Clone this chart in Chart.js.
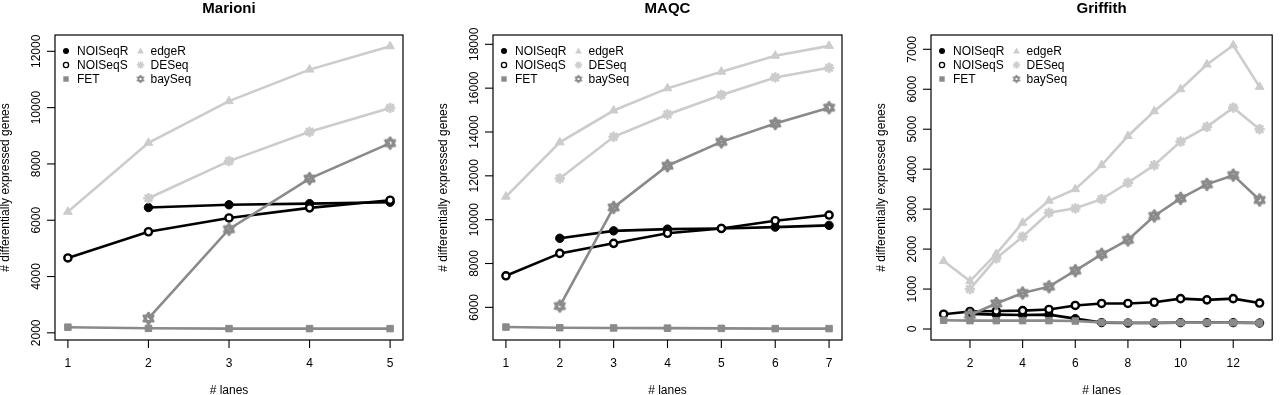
<!DOCTYPE html>
<html>
<head>
<meta charset="utf-8">
<script src="https://cdn.jsdelivr.net/npm/chart.js@4.4.1/dist/chart.umd.min.js"></script>
<style>
  html, body { margin: 0; padding: 0; background: #ffffff; }
  #wrap { position: relative; width: 1280px; height: 395px; overflow: hidden; }
  canvas { position: absolute; top: 0; }
</style>
</head>
<body>
<div id="wrap">
  <canvas id="c1" width="425" height="395" style="left:0px"></canvas>
  <canvas id="c2" width="425" height="395" style="left:425px"></canvas>
  <canvas id="c3" width="430" height="395" style="left:850px"></canvas>
</div>
<script>
// ---------------- DATA ----------------
const seriesNames = ["NOISeqR", "NOISeqS", "FET", "edgeR", "DESeq", "baySeq"];

// Marioni
const marioniLanes   = [1, 2, 3, 4, 5];
const marioniNOISeqR = [null, 6450, 6550, 6590, 6640];
const marioniNOISeqS = [4660, 5590, 6080, 6440, 6710];
const marioniFET     = [2200, 2160, 2150, 2150, 2150];
const marioniEdgeR   = [6300, 8750, 10230, 11350, 12180];
const marioniDESeq   = [null, 6780, 8100, 9140, 9990];
const marioniBaySeq  = [null, 2510, 5680, 7480, 8740];
const marioniXTicks  = [1, 2, 3, 4, 5];
const marioniYTicks  = [2000, 4000, 6000, 8000, 10000, 12000];

// MAQC
const maqcLanes   = [1, 2, 3, 4, 5, 6, 7];
const maqcNOISeqR = [null, 9150, 9490, 9570, 9600, 9660, 9740];
const maqcNOISeqS = [7440, 8460, 8920, 9380, 9600, 9950, 10210];
const maqcFET     = [5100, 5070, 5060, 5050, 5040, 5030, 5030];
const maqcEdgeR   = [11050, 13530, 14980, 15990, 16750, 17480, 17930];
const maqcDESeq   = [null, 11880, 13780, 14800, 15690, 16490, 16930];
const maqcBaySeq  = [null, 6060, 10560, 12460, 13550, 14390, 15110];
const maqcXTicks  = [1, 2, 3, 4, 5, 6, 7];
const maqcYTicks  = [6000, 8000, 10000, 12000, 14000, 16000, 18000];

// Griffith
const griffithLanes   = [1, 2, 3, 4, 5, 6, 7, 8, 9, 10, 11, 12, 13];
const griffithNOISeqR = [null, 380, 360, 350, 360, 260, 160, 150, 150, 160, 160, 160, 150];
const griffithNOISeqS = [370, 440, 450, 460, 490, 590, 640, 640, 670, 760, 730, 760, 650];
const griffithFET     = [220, 210, 210, 210, 210, 200, 165, 160, 160, 160, 160, 160, 150];
const griffithEdgeR   = [1700, 1200, 1880, 2660, 3210, 3500, 4100, 4830, 5450, 6000, 6620, 7100, 6060];
const griffithDESeq   = [null, 1000, 1770, 2310, 2910, 3020, 3250, 3660, 4100, 4690, 5060, 5540, 5000];
const griffithBaySeq  = [null, 350, 640, 900, 1060, 1460, 1870, 2230, 2830, 3270, 3620, 3850, 3230];
const griffithXTicks  = [2, 4, 6, 8, 10, 12];
const griffithYTicks  = [0, 1000, 2000, 3000, 4000, 5000, 6000, 7000];

const titles = ["Marioni", "MAQC", "Griffith"];
const xTitle = "# lanes";
const yTitle = "# differentially expressed genes";

// ---------------- STYLES ----------------
const FONT = '"Liberation Sans", Arial, Helvetica, sans-serif';
const DARK = '#8a8a8a';
const LIGHT = '#cccccc';

function davidStar(r, lw, color) {
  const s = Math.ceil(2 * r + lw * 2 + 4);
  const c = document.createElement('canvas');
  c.width = s; c.height = s;
  const g = c.getContext('2d');
  const cx = s / 2, cy = s / 2;
  g.strokeStyle = color; g.lineWidth = lw; g.lineJoin = 'round';
  [1, -1].forEach(d => {
    g.beginPath();
    g.moveTo(cx, cy - d * r);
    g.lineTo(cx + r * 0.866, cy + d * r / 2);
    g.lineTo(cx - r * 0.866, cy + d * r / 2);
    g.closePath();
    g.stroke();
  });
  return c;
}
const bayStarBig = davidStar(5.5, 2.6, DARK);
const bayStarSmall = davidStar(3.6, 1.4, DARK);

const styles = {
  NOISeqR: { color: '#000000', pointStyle: 'circle', radius: 4.2, bg: '#000000', pbw: 1, order: 6 },
  NOISeqS: { color: '#000000', pointStyle: 'circle', radius: 3.6, bg: '#ffffff', pbw: 2.4, order: 5 },
  FET:     { color: DARK, pointStyle: 'rect', radius: 4.6, bg: DARK, pbw: 1, order: 4 },
  edgeR:   { color: LIGHT, pointStyle: 'triangle', radius: 5, bg: LIGHT, pbw: 1, order: 3 },
  DESeq:   { color: LIGHT, pointStyle: 'star', radius: 5.2, bg: LIGHT, pbw: 2.6, order: 2 },
  baySeq:  { color: DARK, pointStyle: bayStarBig, radius: 5, bg: DARK, pbw: 1, order: 1 }
};

function buildDatasets(lanes, values) {
  return seriesNames.map((name, i) => {
    const st = styles[name];
    const pts = [];
    lanes.forEach((x, j) => { if (values[i][j] !== null) pts.push({ x: x, y: values[i][j] }); });
    return {
      label: name,
      data: pts,
      borderColor: st.color,
      backgroundColor: st.bg,
      borderWidth: 2.6,
      pointStyle: st.pointStyle,
      pointRadius: st.radius,
      pointBackgroundColor: st.bg,
      pointBorderColor: st.color,
      pointBorderWidth: st.pbw,
      tension: 0,
      order: st.order,
      clip: false
    };
  });
}

// Legend marker drawing
function legendMarker(ctx, name, x, y) {
  ctx.save();
  if (name === 'NOISeqR') {
    ctx.fillStyle = '#000'; ctx.beginPath(); ctx.arc(x, y, 3, 0, Math.PI * 2); ctx.fill();
  } else if (name === 'NOISeqS') {
    ctx.strokeStyle = '#000'; ctx.lineWidth = 1.3; ctx.beginPath(); ctx.arc(x, y, 2.6, 0, Math.PI * 2); ctx.stroke();
  } else if (name === 'FET') {
    ctx.fillStyle = DARK; ctx.fillRect(x - 2.7, y - 2.7, 5.4, 5.4);
  } else if (name === 'edgeR') {
    ctx.fillStyle = LIGHT; ctx.beginPath();
    ctx.moveTo(x, y - 3.6); ctx.lineTo(x + 3.3, y + 2.4); ctx.lineTo(x - 3.3, y + 2.4); ctx.closePath(); ctx.fill();
  } else if (name === 'DESeq') {
    ctx.strokeStyle = LIGHT; ctx.lineWidth = 1.5; ctx.beginPath();
    const r = 3.8, d = r * 0.707;
    ctx.moveTo(x - r, y); ctx.lineTo(x + r, y);
    ctx.moveTo(x, y - r); ctx.lineTo(x, y + r);
    ctx.moveTo(x - d, y - d); ctx.lineTo(x + d, y + d);
    ctx.moveTo(x - d, y + d); ctx.lineTo(x + d, y - d);
    ctx.stroke();
  } else if (name === 'baySeq') {
    ctx.drawImage(bayStarSmall, x - bayStarSmall.width / 2, y - bayStarSmall.height / 2);
  }
  ctx.restore();
}

function decorPlugin(title, xTicks, yTicks) {
  return {
    id: 'decor',
    afterDraw(chart) {
      const ctx = chart.ctx;
      const a = chart.chartArea;
      const xs = chart.scales.x, ys = chart.scales.y;
      ctx.save();
      // box
      ctx.strokeStyle = '#000'; ctx.lineWidth = 1.2;
      ctx.strokeRect(a.left, a.top, a.right - a.left, a.bottom - a.top);
      // x ticks
      ctx.lineWidth = 1.1;
      ctx.fillStyle = '#000';
      ctx.font = '12px ' + FONT;
      ctx.textAlign = 'center'; ctx.textBaseline = 'alphabetic';
      xTicks.forEach(v => {
        const px = xs.getPixelForValue(v);
        ctx.beginPath(); ctx.moveTo(px, a.bottom); ctx.lineTo(px, a.bottom + 8); ctx.stroke();
        ctx.fillText(String(v), px, 367);
      });
      // y ticks
      yTicks.forEach(v => {
        const py = ys.getPixelForValue(v);
        ctx.beginPath(); ctx.moveTo(a.left, py); ctx.lineTo(a.left - 8, py); ctx.stroke();
        ctx.save();
        ctx.translate(a.left - 15, py);
        ctx.rotate(-Math.PI / 2);
        ctx.textAlign = 'center'; ctx.textBaseline = 'alphabetic';
        ctx.fillText(String(v), 0, 0);
        ctx.restore();
      });
      // axis titles
      ctx.textAlign = 'center';
      ctx.fillText(xTitle, (a.left + a.right) / 2, 393.5);
      ctx.save();
      ctx.translate(a.left - 46, (a.top + a.bottom) / 2);
      ctx.rotate(-Math.PI / 2);
      ctx.fillText(yTitle, 0, 0);
      ctx.restore();
      // main title
      ctx.font = 'bold 15px ' + FONT;
      ctx.fillText(title, (a.left + a.right) / 2, 12.5);
      // legend
      ctx.font = '12px ' + FONT;
      ctx.textAlign = 'left'; ctx.textBaseline = 'middle';
      const rowsY = [a.top + 16, a.top + 30, a.top + 44];
      const cols = [
        { mx: a.left + 11, tx: a.left + 22, names: ['NOISeqR', 'NOISeqS', 'FET'] },
        { mx: a.left + 85.5, tx: a.left + 95.5, names: ['edgeR', 'DESeq', 'baySeq'] }
      ];
      cols.forEach(c => {
        c.names.forEach((n, i) => {
          legendMarker(ctx, n, c.mx, rowsY[i]);
          ctx.fillStyle = '#000';
          ctx.fillText(n, c.tx, rowsY[i] + 0.5);
        });
      });
      ctx.restore();
    }
  };
}

function makeChart(id, title, lanes, values, xTicks, yTicks, lim, pad) {
  const ctx = document.getElementById(id).getContext('2d');
  return new Chart(ctx, {
    type: 'line',
    data: { datasets: buildDatasets(lanes, values) },
    options: {
      responsive: false,
      animation: false,
      devicePixelRatio: 1,
      layout: { padding: pad },
      plugins: { legend: { display: false }, tooltip: { enabled: false }, title: { display: false } },
      scales: {
        x: { type: 'linear', display: false, min: lim.xmin, max: lim.xmax },
        y: { type: 'linear', display: false, min: lim.ymin, max: lim.ymax }
      }
    },
    plugins: [decorPlugin(title, xTicks, yTicks)]
  });
}

makeChart('c1', titles[0], marioniLanes,
  [marioniNOISeqR, marioniNOISeqS, marioniFET, marioniEdgeR, marioniDESeq, marioniBaySeq],
  marioniXTicks, marioniYTicks,
  { xmin: 0.84, xmax: 5.16, ymin: 1745, ymax: 12580 },
  { left: 55, right: 22, top: 35, bottom: 55 });

makeChart('c2', titles[1], maqcLanes,
  [maqcNOISeqR, maqcNOISeqS, maqcFET, maqcEdgeR, maqcDESeq, maqcBaySeq],
  maqcXTicks, maqcYTicks,
  { xmin: 0.76, xmax: 7.24, ymin: 4510, ymax: 18425 },
  { left: 68, right: 8, top: 35, bottom: 55 });

makeChart('c3', titles[2], griffithLanes,
  [griffithNOISeqR, griffithNOISeqS, griffithFET, griffithEdgeR, griffithDESeq, griffithBaySeq],
  griffithXTicks, griffithYTicks,
  { xmin: 0.52, xmax: 13.48, ymin: -275, ymax: 7358 },
  { left: 81, right: 2, top: 35, bottom: 55 });
</script>
</body>
</html>
